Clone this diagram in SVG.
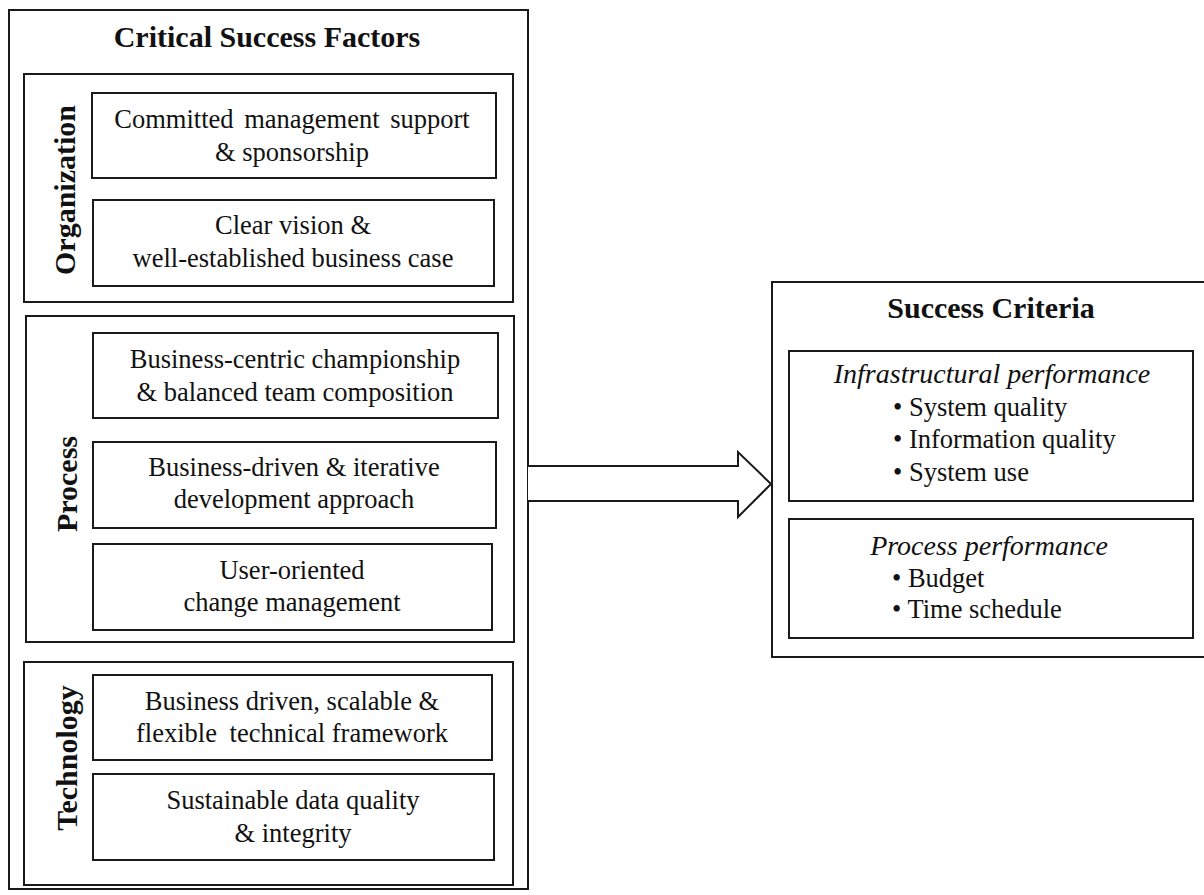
<svg xmlns="http://www.w3.org/2000/svg" width="1204" height="895" viewBox="0 0 1204 895">
  <style>
    .frame { fill: #fff; stroke: #1a1a1a; stroke-width: 2; }
    .t { font-family: "Liberation Serif", "Times New Roman", serif; fill: #111; text-anchor: middle; }
    .body { font-size: 26.5px; }
    .head { font-size: 30px; font-weight: bold; }
    .side { font-size: 30px; font-weight: bold; }
    .ital { font-size: 28px; font-style: italic; }
    .item { font-size: 26.5px; text-anchor: start; }
  </style>
  <rect width="1204" height="895" fill="#fff"/>

  <!-- Left column: critical success factors -->
  <g id="csf">
    <rect class="frame" x="9" y="10" width="519" height="879"/>
    <text class="t head" x="267" y="47">Critical Success Factors</text>
  </g>

  <g id="organization">
    <rect class="frame" x="24" y="74" width="489" height="228"/>
    <text class="t side" transform="translate(75,190) rotate(-90)">Organization</text>
  </g>
  <g id="committed">
    <rect class="frame" x="92" y="93" width="404" height="85"/>
    <text class="t body" x="292" y="128" word-spacing="4">Committed management support</text>
    <text class="t body" x="292" y="161">&amp; sponsorship</text>
  </g>
  <g id="vision">
    <rect class="frame" x="93" y="200" width="401" height="86"/>
    <text class="t body" x="293" y="234">Clear vision &amp;</text>
    <text class="t body" x="293" y="267">well-established business case</text>
  </g>

  <g id="process">
    <rect class="frame" x="26" y="316" width="488" height="326"/>
    <text class="t side" transform="translate(77,484) rotate(-90)">Process</text>
  </g>
  <g id="championship">
    <rect class="frame" x="93" y="333" width="405" height="85"/>
    <text class="t body" x="295" y="368">Business-centric championship</text>
    <text class="t body" x="295" y="401">&amp; balanced team composition</text>
  </g>
  <g id="iterative">
    <rect class="frame" x="93" y="442" width="403" height="86"/>
    <text class="t body" x="294" y="476">Business-driven &amp; iterative</text>
    <text class="t body" x="294" y="508">development approach</text>
  </g>
  <g id="change">
    <rect class="frame" x="93" y="544" width="399" height="86"/>
    <text class="t body" x="292" y="579">User-oriented</text>
    <text class="t body" x="292" y="611">change management</text>
  </g>

  <g id="technology">
    <rect class="frame" x="24" y="662" width="489" height="223"/>
    <text class="t side" transform="translate(77,758) rotate(-90)">Technology</text>
  </g>
  <g id="framework">
    <rect class="frame" x="93" y="675" width="399" height="85"/>
    <text class="t body" x="292" y="710">Business driven, scalable &amp;</text>
    <text class="t body" x="292" y="742">flexible <tspan dx="6">technical framework</tspan></text>
  </g>
  <g id="dataquality">
    <rect class="frame" x="93" y="774" width="401" height="86"/>
    <text class="t body" x="293" y="809">Sustainable data quality</text>
    <text class="t body" x="293" y="842">&amp; integrity</text>
  </g>

  <!-- Right column: success criteria -->
  <g id="criteria">
    <rect class="frame" x="772" y="282" width="440" height="375"/>
    <text class="t head" x="991" y="318">Success Criteria</text>
  </g>
  <g id="infrastructural">
    <rect class="frame" x="789" y="351" width="404" height="150"/>
    <text class="t ital" x="992" y="383">Infrastructural performance</text>
    <text class="t item" x="893" y="416">• System quality</text>
    <text class="t item" x="893" y="448">• Information quality</text>
    <text class="t item" x="893" y="481">• System use</text>
  </g>
  <g id="processperf">
    <rect class="frame" x="789" y="519" width="404" height="119"/>
    <text class="t ital" x="989" y="555">Process performance</text>
    <text class="t item" x="892" y="587">• Budget</text>
    <text class="t item" x="892" y="618">• Time schedule</text>
  </g>

  <!-- Block arrow from factors to criteria -->
  <g id="connectors">
    <path d="M528,466 H738 V452 L771,484 L738,517 V501 H528" fill="#fff" stroke="#1a1a1a" stroke-width="2" stroke-linejoin="miter"/>
  </g>
</svg>
